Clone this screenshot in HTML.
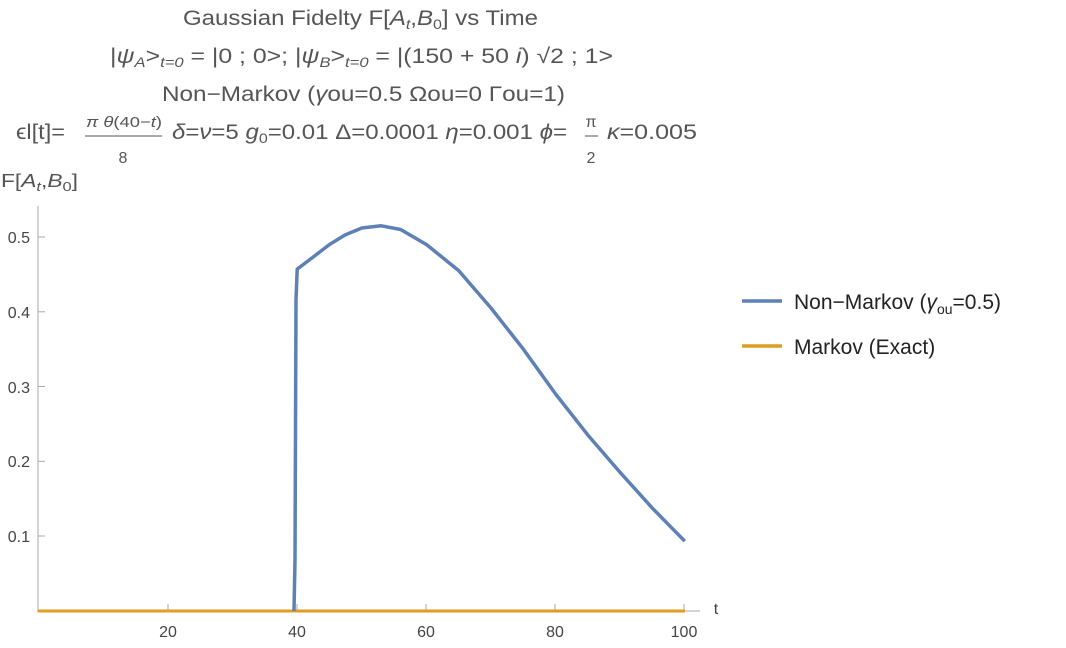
<!DOCTYPE html>
<html><head><style>body{margin:0;background:#fff}svg{display:block}</style></head><body>
<svg width="1066" height="648" xmlns="http://www.w3.org/2000/svg" font-family="Liberation Sans, sans-serif">
<g fill="#555" font-size="21">
<text x="183" y="25" textLength="355" lengthAdjust="spacingAndGlyphs">Gaussian Fidelty F[<tspan font-style="italic">A</tspan><tspan font-size="14" font-style="italic" dy="4">t</tspan><tspan dy="-4">,</tspan><tspan font-style="italic">B</tspan><tspan font-size="14" dy="4">0</tspan><tspan dy="-4">] vs Time</tspan></text>
<text x="110" y="63" textLength="503" lengthAdjust="spacingAndGlyphs">|<tspan font-style="italic">ψ</tspan><tspan font-size="14" font-style="italic" dy="4">A</tspan><tspan dy="-4">&gt;</tspan><tspan font-size="14" font-style="italic" dy="4">t=0</tspan><tspan dy="-4"> = |0 ; 0&gt;; |</tspan><tspan font-style="italic">ψ</tspan><tspan font-size="14" font-style="italic" dy="4">B</tspan><tspan dy="-4">&gt;</tspan><tspan font-size="14" font-style="italic" dy="4">t=0</tspan><tspan dy="-4"> = |(150 + 50 </tspan><tspan font-style="italic">i</tspan>) √2 ; 1&gt;</text>
<text x="162" y="101" textLength="403" lengthAdjust="spacingAndGlyphs">Non−Markov (<tspan font-style="italic">γ</tspan>ou=0.5  Ωou=0 Γou=1)</text>
<text x="16" y="139" textLength="49" lengthAdjust="spacingAndGlyphs">ϵl[t]=</text>
<text x="172" y="139" textLength="395" lengthAdjust="spacingAndGlyphs"><tspan font-style="italic">δ</tspan>=<tspan font-style="italic">ν</tspan>=5 <tspan font-style="italic">g</tspan><tspan font-size="14" dy="4">0</tspan><tspan dy="-4">=0.01 Δ=0.0001 </tspan><tspan font-style="italic">η</tspan>=0.001 <tspan font-style="italic">ϕ</tspan>=</text>
<text x="607" y="139" textLength="90" lengthAdjust="spacingAndGlyphs"><tspan font-style="italic">κ</tspan>=0.005</text>
<text x="86" y="127" font-size="15" textLength="76" lengthAdjust="spacingAndGlyphs"><tspan font-style="italic">π θ</tspan>(40−<tspan font-style="italic">t</tspan>)</text>
<text x="123" y="163" font-size="16" text-anchor="middle">8</text>
<text x="591" y="127" font-size="16" text-anchor="middle">π</text>
<text x="591" y="163" font-size="16" text-anchor="middle">2</text>
<text x="1" y="187" font-size="18" textLength="77" lengthAdjust="spacingAndGlyphs">F[<tspan font-style="italic">A</tspan><tspan font-size="13" font-style="italic" dy="4">t</tspan><tspan dy="-4">,</tspan><tspan font-style="italic">B</tspan><tspan font-size="13" dy="4">0</tspan><tspan dy="-4">]</tspan></text>
</g>
<line x1="85" y1="136" x2="162" y2="136" stroke="#555" stroke-width="1"/>
<line x1="585" y1="136" x2="598" y2="136" stroke="#555" stroke-width="1"/>
<g stroke="#aaa" stroke-width="1">
<line x1="38" y1="206" x2="38" y2="612"/>
<line x1="38" y1="611" x2="700" y2="611"/>
<line x1="38" y1="237" x2="45" y2="237"/><line x1="38" y1="311.8" x2="45" y2="311.8"/><line x1="38" y1="386.5" x2="45" y2="386.5"/><line x1="38" y1="461.3" x2="45" y2="461.3"/><line x1="38" y1="536" x2="45" y2="536"/>
<line x1="168" y1="611" x2="168" y2="604"/><line x1="297" y1="611" x2="297" y2="604"/><line x1="426" y1="611" x2="426" y2="604"/><line x1="555" y1="611" x2="555" y2="604"/><line x1="684" y1="611" x2="684" y2="604"/>
</g>
<g fill="#444" font-size="16" text-anchor="end">
<text x="30" y="243">0.5</text><text x="30" y="318">0.4</text><text x="30" y="393">0.3</text><text x="30" y="467">0.2</text><text x="30" y="542">0.1</text>
</g>
<g fill="#444" font-size="16" text-anchor="middle">
<text x="168" y="637">20</text><text x="297" y="637">40</text><text x="426" y="637">60</text><text x="555" y="637">80</text><text x="684" y="637">100</text>
<text x="716" y="614">t</text>
</g>
<line x1="38" y1="611" x2="685" y2="611" stroke="#e19c24" stroke-width="3"/>
<polyline fill="none" stroke="#5e81b5" stroke-width="3.5" stroke-linejoin="round" points="294,611 295,560 296,300 297.2,269.1 310.1,259.4 329.5,244.5 345,235 361.8,228 381.2,225.8 400.6,229.5 426.4,244.5 458.7,270.6 491,308 523.3,349.1 555.6,394 587.9,435.1 620.2,472.5 652.5,508.3 684.8,541.2"/>
<line x1="742" y1="301" x2="782" y2="301" stroke="#5e81b5" stroke-width="3.5"/>
<line x1="742" y1="346" x2="782" y2="346" stroke="#e19c24" stroke-width="3.5"/>
<g fill="#222" font-size="21">
<text x="794" y="309">Non−Markov (<tspan font-style="italic">γ</tspan><tspan font-size="14" dy="5">ou</tspan><tspan dy="-5">=0.5)</tspan></text>
<text x="794" y="354">Markov (Exact)</text>
</g>
</svg>
</body></html>
